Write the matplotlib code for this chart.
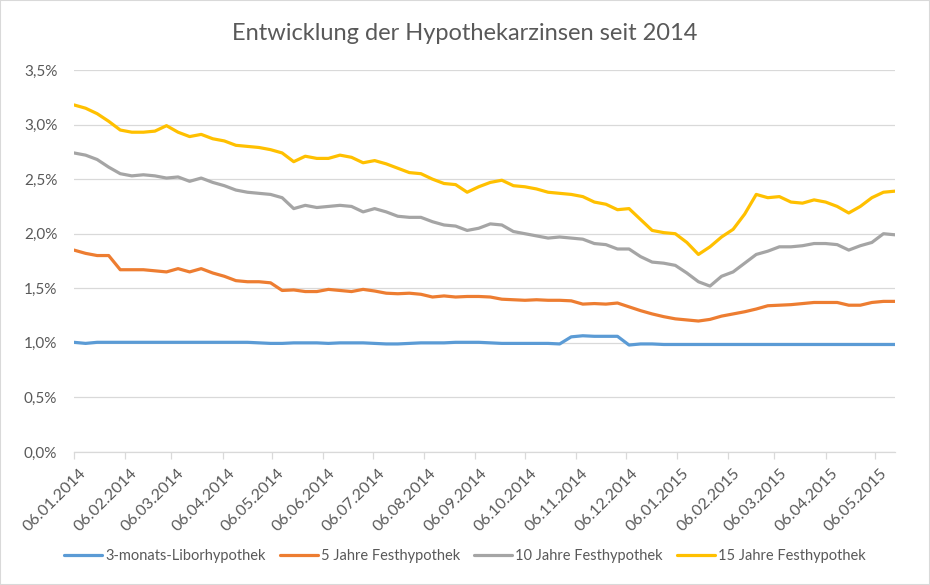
import matplotlib
matplotlib.use("Agg")
import matplotlib.pyplot as plt
import matplotlib.dates as mdates
import matplotlib.transforms as mtransforms
from matplotlib.ticker import FuncFormatter
from matplotlib.patches import Rectangle
import pandas as pd

title = "Entwicklung der Hypothekarzinsen seit 2014"
series_names = ["3-monats-Liborhypothek", "5 Jahre Festhypothek",
                "10 Jahre Festhypothek", "15 Jahre Festhypothek"]
colors = ["#5B9BD5", "#ED7D31", "#A5A5A5", "#FFC000"]

# weekly observation dates (Mondays)
dates = pd.date_range("2014-01-06", "2015-05-18", freq="7D")

libor = [1.005, 0.995, 1.005, 1.005, 1.005, 1.005, 1.005, 1.005, 1.005, 1.005,
         1.005, 1.005, 1.005, 1.005, 1.005, 1.005, 1.0, 0.995, 0.995, 1.0,
         1.0, 1.0, 0.995, 1.0, 1.0, 1.0, 0.995, 0.99, 0.99, 0.995,
         1.0, 1.0, 1.0, 1.005, 1.005, 1.005, 1.0, 0.995, 0.995, 0.995,
         0.995, 0.995, 0.99, 1.055, 1.065, 1.06, 1.06, 1.06, 0.98, 0.99,
         0.99, 0.985, 0.985, 0.985, 0.985, 0.985, 0.985, 0.985, 0.985, 0.985,
         0.985, 0.985, 0.985, 0.985, 0.985, 0.985, 0.985, 0.985, 0.985, 0.985,
         0.985, 0.985]

fix5 = [1.85, 1.82, 1.80, 1.80, 1.67, 1.67, 1.67, 1.66, 1.65, 1.68,
        1.65, 1.68, 1.64, 1.61, 1.57, 1.56, 1.56, 1.55, 1.48, 1.485,
        1.47, 1.47, 1.49, 1.48, 1.47, 1.49, 1.475, 1.455, 1.45, 1.455,
        1.445, 1.42, 1.43, 1.42, 1.425, 1.425, 1.42, 1.40, 1.395, 1.39,
        1.395, 1.39, 1.39, 1.385, 1.355, 1.36, 1.355, 1.365, 1.33, 1.295,
        1.265, 1.24, 1.22, 1.21, 1.20, 1.215, 1.245, 1.265, 1.285, 1.31,
        1.34, 1.345, 1.35, 1.36, 1.37, 1.37, 1.37, 1.345, 1.345, 1.37,
        1.38, 1.38]

fix10 = [2.74, 2.72, 2.68, 2.61, 2.55, 2.53, 2.54, 2.53, 2.51, 2.52,
         2.48, 2.51, 2.47, 2.44, 2.40, 2.38, 2.37, 2.36, 2.33, 2.23,
         2.26, 2.24, 2.25, 2.26, 2.25, 2.20, 2.23, 2.20, 2.16, 2.15,
         2.15, 2.11, 2.08, 2.07, 2.03, 2.05, 2.09, 2.08, 2.02, 2.00,
         1.98, 1.96, 1.97, 1.96, 1.95, 1.91, 1.90, 1.86, 1.86, 1.79,
         1.74, 1.73, 1.71, 1.64, 1.56, 1.52, 1.61, 1.65, 1.73, 1.81,
         1.84, 1.88, 1.88, 1.89, 1.91, 1.91, 1.90, 1.85, 1.89, 1.92,
         2.00, 1.99]

fix15 = [3.18, 3.15, 3.10, 3.03, 2.95, 2.93, 2.93, 2.94, 2.99, 2.93,
         2.89, 2.91, 2.87, 2.85, 2.81, 2.80, 2.79, 2.77, 2.74, 2.66,
         2.71, 2.69, 2.69, 2.72, 2.70, 2.65, 2.67, 2.64, 2.60, 2.56,
         2.55, 2.50, 2.46, 2.45, 2.38, 2.43, 2.47, 2.49, 2.44, 2.43,
         2.41, 2.38, 2.37, 2.36, 2.34, 2.29, 2.27, 2.22, 2.23, 2.13,
         2.03, 2.01, 2.00, 1.92, 1.81, 1.88, 1.97, 2.04, 2.18, 2.36,
         2.33, 2.34, 2.29, 2.28, 2.31, 2.29, 2.25, 2.19, 2.25, 2.33,
         2.38, 2.39]

y_ticks = [0.0, 0.5, 1.0, 1.5, 2.0, 2.5, 3.0, 3.5]
tick_dates = [pd.Timestamp(2014, 1, 6) + pd.DateOffset(months=i) for i in range(17)]

FONT = ["Lato", "DejaVu Sans"]
TXT = "#595959"
plt.rcParams["font.family"] = FONT

W, H = 930, 585
fig = plt.figure(figsize=(W / 100, H / 100), dpi=100)
fig.patches.append(Rectangle((0, 0), 1, 1, transform=fig.transFigure,
                             fill=False, edgecolor="#D9D9D9", linewidth=1.5))

left, right = 74 / W, 895 / W
bottom, top = 1 - 452 / H, 1 - 70 / H
ax = fig.add_axes([left, bottom, right - left, top - bottom])

for vals, name, c in zip([libor, fix5, fix10, fix15], series_names, colors):
    ax.plot(dates, vals, color=c, linewidth=2.3, label=name,
            solid_joinstyle="round", solid_capstyle="round")

ax.set_xlim(dates[0], dates[-1])
ax.set_ylim(0, 3.5)
ax.set_yticks(y_ticks)
ax.yaxis.set_major_formatter(FuncFormatter(lambda v, p: f"{v:.1f}".replace(".", ",") + "%"))
ax.set_xticks(tick_dates)
ax.xaxis.set_major_formatter(mdates.DateFormatter("%d.%m.%Y"))

ax.grid(axis="y", color="#D9D9D9", linewidth=0.9)
ax.set_axisbelow(True)
for s in ["top", "right", "left"]:
    ax.spines[s].set_visible(False)
ax.spines["bottom"].set_color("#D9D9D9")
ax.spines["bottom"].set_linewidth(0.9)
ax.tick_params(axis="y", length=0, pad=12, labelsize=11, labelcolor=TXT)
ax.tick_params(axis="x", length=5, color="#D9D9D9", width=0.9, pad=5,
               labelsize=11.5, labelcolor=TXT)
offset = mtransforms.ScaledTranslation(5 / 100, 0, fig.dpi_scale_trans)
for lab in ax.get_xticklabels():
    lab.set_rotation(45)
    lab.set_ha("right")
    lab.set_va("top")
    lab.set_rotation_mode("anchor")
    lab.set_transform(lab.get_transform() + offset)

fig.text(0.5, 1 - 33 / H, title, ha="center", va="center", fontsize=17, color=TXT)

leg = fig.legend(loc="center", bbox_to_anchor=(0.5, 1 - 556 / H), ncol=4,
                 frameon=False, fontsize=10.5, handlelength=2.6, handletextpad=0.2,
                 columnspacing=1.0)
for t in leg.get_texts():
    t.set_color(TXT)

fig.savefig("out.png", dpi=100)
